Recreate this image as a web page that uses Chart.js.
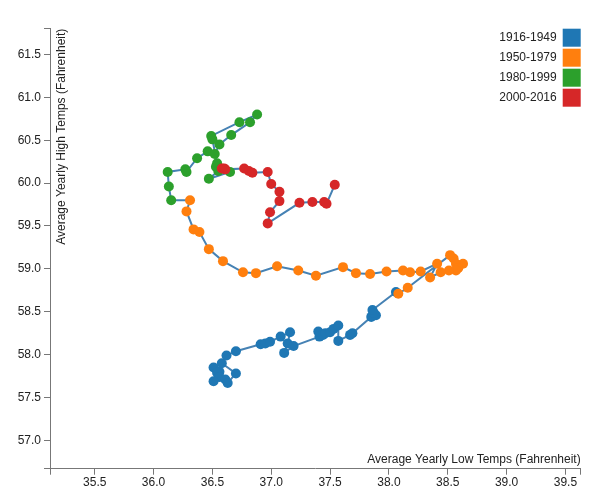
<!DOCTYPE html>
<html lang="en">
<head>
  <meta charset="UTF-8" />
  <title>Average Yearly High vs Low Temps</title>
  <script src="https://cdn.jsdelivr.net/npm/chart.js@4.4.0"></script>
  <style>
    * { box-sizing: border-box; margin: 0; padding: 0; }
    body { background: #fff; width: 609px; height: 492px; overflow: hidden; }
    .chart-wrap { position: relative; width: 609px; height: 492px; }
  </style>
</head>
<body>
  <div class="chart-wrap"><canvas id="tempChart" width="609" height="492"></canvas></div>

  <script>
    // Eras and their colours (legend order)
    const eras = ['1916-1949', '1950-1979', '1980-1999', '2000-2016'];
    const eraColors = ['#1f77b4', '#ff7f0e', '#2ca02c', '#d62728'];

    // Average yearly low (x) / high (y) temps, one point per year, in order
    const lows1916 = [36.51, 36.56, 36.54, 36.56, 36.51, 36.61, 36.63, 36.70, 36.58, 36.62, 36.70, 36.91,
      36.95, 36.99, 37.08, 37.16, 37.14, 37.11, 37.19, 37.41, 37.40, 37.44, 37.46, 37.50, 37.53, 37.57,
      37.57, 37.67, 37.69, 37.85, 37.89, 37.87, 37.86, 38.06];
    const highs1916 = [57.85, 57.80, 57.79, 57.74, 57.69, 57.71, 57.67, 57.78, 57.90, 57.99, 58.04, 58.12,
      58.13, 58.15, 58.21, 58.26, 58.13, 58.02, 58.10, 58.21, 58.27, 58.23, 58.25, 58.26, 58.30, 58.34,
      58.16, 58.23, 58.25, 58.44, 58.46, 58.49, 58.52, 58.73];

    const lows1950 = [38.08, 38.16, 38.52, 38.55, 38.63, 38.57, 38.59, 38.57, 38.51, 38.44, 38.35, 38.41,
      38.27, 38.18, 38.12, 37.98, 37.84, 37.72, 37.61, 37.38, 37.23, 37.05, 36.87, 36.76, 36.59, 36.47,
      36.39, 36.34, 36.28, 36.31];
    const highs1950 = [58.71, 58.78, 59.16, 59.12, 59.06, 59.06, 59.01, 58.98, 58.98, 58.96, 58.90, 59.06,
      58.97, 58.96, 58.98, 58.97, 58.94, 58.95, 59.02, 58.92, 58.98, 59.03, 58.95, 58.96, 59.09, 59.23,
      59.43, 59.46, 59.67, 59.80];

    const lows1980 = [36.15, 36.13, 36.12, 36.27, 36.28, 36.37, 36.46, 36.52, 36.56, 36.66, 36.82, 36.88,
      36.73, 36.49, 36.50, 36.54, 36.53, 36.55, 36.47, 36.65];
    const highs1980 = [59.80, 59.96, 60.13, 60.16, 60.13, 60.29, 60.37, 60.34, 60.45, 60.56, 60.71, 60.80,
      60.71, 60.55, 60.51, 60.23, 60.19, 60.14, 60.05, 60.13];

    const lows2000 = [36.58, 36.60, 36.61, 36.77, 36.81, 36.84, 36.97, 37.00, 37.07, 37.07, 36.99, 36.97,
      37.24, 37.35, 37.45, 37.47, 37.54];
    const highs2000 = [60.17, 60.17, 60.16, 60.17, 60.14, 60.12, 60.13, 59.99, 59.90, 59.79, 59.66, 59.53,
      59.77, 59.78, 59.78, 59.76, 59.98];

    const xTicks = [35.5, 36.0, 36.5, 37.0, 37.5, 38.0, 38.5, 39.0, 39.5];
    const yTicks = [57.0, 57.5, 58.0, 58.5, 59.0, 59.5, 60.0, 60.5, 61.0, 61.5];

    const xTitle = 'Average Yearly Low Temps (Fahrenheit)';
    const yTitle = 'Average Yearly High Temps (Fahrenheit)';

    // stitch the eras into one chronological path
    const eraLows = [lows1916, lows1950, lows1980, lows2000];
    const eraHighs = [highs1916, highs1950, highs1980, highs2000];
    const points = [];
    const pointColors = [];
    eraLows.forEach((lows, e) => {
      lows.forEach((x, i) => {
        points.push({ x, y: eraHighs[e][i] });
        pointColors.push(eraColors[e]);
      });
    });

    // domain padded by one degree either side, like the original
    const allLows = eraLows.flat();
    const allHighs = eraHighs.flat();
    const xMin = Math.min(...allLows) - 1, xMax = Math.max(...allLows) + 1;
    const yMin = Math.min(...allHighs) - 1, yMax = Math.max(...allHighs) + 1;

    const FONT = '"Liberation Sans", Arial, sans-serif';
    const TEXT = '#222';
    const AXIS = '#777';

    // ticks incl. both ends (unlabelled) so the outer end ticks get drawn
    function withEnds(lo, hi, vals) {
      return scale => { scale.ticks = [lo, ...vals, hi].map(value => ({ value })); };
    }
    function label(n) {
      return (v, i) => (i === 0 || i === n + 1) ? '' : Number(v).toFixed(1);
    }

    const overlay = {
      id: 'overlay',
      afterDraw(chart) {
        const { ctx, chartArea: a } = chart;
        ctx.save();
        ctx.font = '12px ' + FONT;
        ctx.fillStyle = TEXT;

        // x title sits just above the axis, right aligned
        ctx.textAlign = 'right';
        ctx.textBaseline = 'alphabetic';
        ctx.fillText(xTitle, a.right, a.bottom - 6);

        // legend, text left of the swatch
        ctx.textBaseline = 'middle';
        eras.forEach((name, i) => {
          const y = a.top + i * 20;
          ctx.fillStyle = eraColors[i];
          ctx.fillRect(a.right - 18, y, 18, 18);
          ctx.fillStyle = TEXT;
          ctx.fillText(name, a.right - 24, y + 9);
        });

        // y title, rotated, inside the plot
        ctx.translate(a.left + 6, a.top);
        ctx.rotate(-Math.PI / 2);
        ctx.textAlign = 'right';
        ctx.textBaseline = 'top';
        ctx.fillText(yTitle, 0, 0);
        ctx.restore();
      }
    };

    new Chart(document.getElementById('tempChart'), {
      type: 'scatter',
      data: {
        datasets: [{
          data: points,
          showLine: true,
          borderColor: '#4682b4',
          borderWidth: 2,
          tension: 0,
          pointRadius: 5,
          pointHoverRadius: 5,
          pointBorderWidth: 0,
          pointBackgroundColor: pointColors
        }]
      },
      options: {
        responsive: false,
        animation: false,
        layout: { padding: { top: 28.7, right: 28.3, left: 0, bottom: 0 } },
        plugins: { legend: { display: false }, tooltip: { enabled: false } },
        scales: {
          x: {
            type: 'linear',
            min: xMin,
            max: xMax,
            afterBuildTicks: withEnds(xMin, xMax, xTicks),
            afterFit: s => { s.height = 23.3; },
            border: { display: true, color: AXIS, width: 1 },
            grid: { drawOnChartArea: false, drawTicks: true, tickLength: 6, color: AXIS },
            ticks: {
              autoSkip: false, maxRotation: 0, padding: 1,
              color: TEXT, font: { family: FONT, size: 12 },
              callback: label(xTicks.length)
            }
          },
          y: {
            type: 'linear',
            min: yMin,
            max: yMax,
            afterBuildTicks: withEnds(yMin, yMax, yTicks),
            afterFit: s => { s.width = 50; },
            border: { display: true, color: AXIS, width: 1 },
            grid: { drawOnChartArea: false, drawTicks: true, tickLength: 6, color: AXIS },
            ticks: {
              autoSkip: false, padding: 3,
              color: TEXT, font: { family: FONT, size: 12 },
              callback: label(yTicks.length)
            }
          }
        }
      },
      plugins: [overlay]
    });
  </script>
</body>
</html>
